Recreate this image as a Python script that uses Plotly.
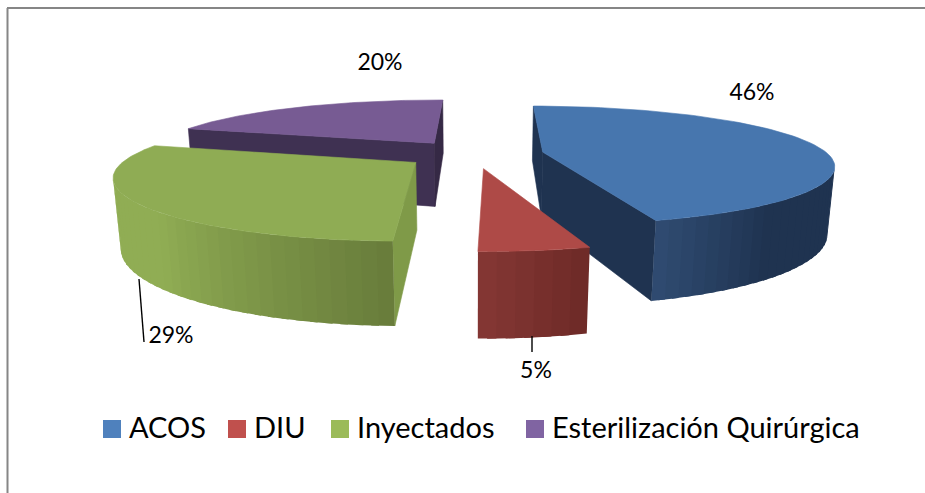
import math
import plotly.graph_objects as go

categories = ["ACOS", "DIU", "Inyectados", "Esterilización Quirúrgica"]
values = [46, 5, 29, 20]
# unrounded shares
shares = [45.4, 4.8, 29.4, 20.4]
legend_colors = ["#4F81BD", "#C0504D", "#9BBB59", "#8064A2"]
top_colors = ["#4776AE", "#AE4A47", "#8FAC54", "#775B93"]
start_walls = ["#1F3350", "#7D3331", "#7F9A48", "#3F3152"]
end_walls = ["#1F3350", "#7D3331", "#7F9A48", "#352945"]
# outer wall colours: (angle, colour) stops
outer_stops = [
    [(140, "#1F3350"), (164, "#304C72")],
    [(164, "#6E2A27"), (181, "#853835")],
    [(181, "#687C3B"), (226, "#90AD54")],
    [(286, "#5A4670"), (358, "#5A4670")],
]
draw_order = [3, 0, 2, 1]
label_pos = [(752, 94), (536, 372), (171, 337), (380, 64)]
legend_x = [112, 237, 340, 535]
leaders = [((139, 279), (144, 342)), ((532, 336), (532, 352))]

START = 0.5
EXPLODE = 0.245
CX, CY = 474.0, 154.0
A, B, H = 285.0, 57.0, 67.0
PX, PY, Q = 0.20, 0.22, 0.02


def project(X, Z, level):
    wx = 1 / (1 - PX * Z + Q * level)
    wy = 1 / (1 - PY * Z + Q * level)
    return CX + A * X * wx, CY + wy * (B * Z + H * level)


def hexrgb(h):
    return [int(h[i:i + 2], 16) for i in (1, 3, 5)]


def stop_color(stops, ang):
    (a0, c0), (a1, c1) = stops
    t = max(0.0, min(1.0, (ang - a0) / (a1 - a0)))
    r0, r1 = hexrgb(c0), hexrgb(c1)
    return "rgb(%d,%d,%d)" % tuple(r0[i] + (r1[i] - r0[i]) * t for i in range(3))


def area(pts):
    s = 0
    for i in range(len(pts)):
        x0, y0 = pts[i]
        x1, y1 = pts[(i + 1) % len(pts)]
        s += x0 * y1 - x1 * y0
    return s / 2


fig = go.Figure()


def poly(pts, color, width=0.6):
    fig.add_trace(go.Scatter(
        x=[p[0] for p in pts] + [pts[0][0]],
        y=[p[1] for p in pts] + [pts[0][1]],
        mode="lines", fill="toself", fillcolor=color,
        line=dict(color=color, width=width), hoverinfo="skip", showlegend=False))


total = sum(shares)
angles = []
a = START
for v in shares:
    angles.append((a, a + 360.0 * v / total))
    a += 360.0 * v / total

for i in draw_order:
    a0, a1 = angles[i]
    mid = math.radians((a0 + a1) / 2)
    ex, ez = EXPLODE * math.sin(mid), -EXPLODE * math.cos(mid)

    def rim(deg, level):
        r = math.radians(deg)
        return project(ex + math.sin(r), ez - math.cos(r), level)

    apex_t, apex_b = project(ex, ez, 0), project(ex, ez, 1)
    w0 = [apex_t, rim(a0, 0), rim(a0, 1), apex_b]
    if area(w0) < 0:
        poly(w0, start_walls[i])
    w1 = [rim(a1, 0), apex_t, apex_b, rim(a1, 1)]
    if area(w1) < 0:
        poly(w1, end_walls[i])
    n = max(6, int((a1 - a0) / 2.5))
    step = (a1 - a0) / n
    for k in range(n):
        d0 = a0 + step * k
        d1 = a0 + step * (k + 1)
        quad = [rim(d0, 0), rim(d1, 0), rim(d1, 1), rim(d0, 1)]
        if area(quad) < 0:
            # overlap into the next strip so no seams show
            d2 = min(a1, d1 + step * 0.5)
            quad2 = [rim(d0, 0), rim(d2, 0), rim(d2, 1), rim(d0, 1)]
            poly(quad2, stop_color(outer_stops[i], (d0 + d1) / 2), width=0)
    m = 80
    top = [apex_t] + [rim(a0 + (a1 - a0) * k / m, 0) for k in range(m + 1)]
    poly(top, top_colors[i])

for (p0, p1) in leaders:
    fig.add_trace(go.Scatter(x=[p0[0], p1[0]], y=[p0[1], p1[1]], mode="lines",
                             line=dict(color="black", width=1.4),
                             hoverinfo="skip", showlegend=False))

fig.add_trace(go.Scatter(
    x=[p[0] for p in label_pos], y=[p[1] for p in label_pos],
    text=[f"{v}%" for v in values], mode="text", textposition="middle center",
    textfont=dict(family="Lato", size=23, color="black"),
    hoverinfo="skip", showlegend=False))

for c, col, x in zip(categories, legend_colors, legend_x):
    fig.add_trace(go.Scatter(
        x=[x], y=[429], mode="markers", marker=dict(symbol="square", size=18, color=col, line=dict(width=0)),
        hoverinfo="skip", showlegend=False))
    fig.add_trace(go.Scatter(
        x=[x + 17], y=[431], mode="text", text=[c], textposition="middle right",
        textfont=dict(family="Lato", size=29, color="black"),
        hoverinfo="skip", showlegend=False))

fig.update_layout(
    width=925, height=493, margin=dict(l=0, r=0, t=0, b=0),
    paper_bgcolor="white", plot_bgcolor="white", autosize=False,
    xaxis=dict(range=[0, 925], visible=False, fixedrange=True),
    yaxis=dict(range=[493, 0], visible=False, fixedrange=True),
    shapes=[
        dict(type="line", x0=7.5, x1=7.5, y0=8, y1=493, line=dict(color="#868686", width=2)),
        dict(type="line", x0=7, x1=925, y0=8, y1=8, line=dict(color="#868686", width=2)),
    ],
)
fig.write_html("out.html", config=dict(displayModeBar=False),
               post_script="document.body.style.margin='0';document.documentElement.style.overflow='hidden';")
